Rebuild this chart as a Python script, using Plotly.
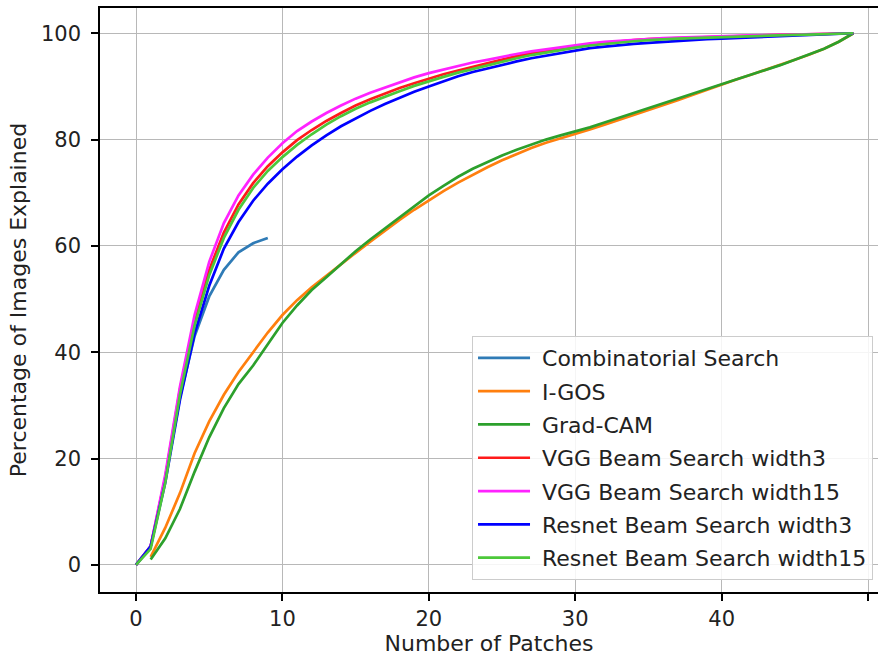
import plotly.graph_objects as go

patches = list(range(50))
patches_from1 = list(range(1, 50))
patches_comb = list(range(10))

comb = [0, 3.5, 16, 31.5, 43, 50.5, 55.5, 58.8, 60.5, 61.5]

igos = [1.5, 7, 13.5, 21, 27, 32, 36.3, 40.0, 43.7, 47.0,
        49.8, 52.2, 54.4, 56.6, 58.7, 60.8, 62.9, 64.9, 66.8, 68.6,
        70.3, 71.9, 73.4, 74.8, 76.1, 77.3, 78.4, 79.4, 80.2, 81.0,
        81.9, 82.8, 83.7, 84.6, 85.5, 86.4, 87.4, 88.4, 89.4, 90.4,
        91.3, 92.2, 93.1, 94.0, 95.0, 96.0, 97.1, 98.4, 100]

gradcam = [1.0, 5, 10.5, 17.5, 24, 29.5, 34, 37.5, 41.5, 45.5,
           48.8, 51.7, 54.1, 56.6, 59.0, 61.2, 63.3, 65.4, 67.5, 69.5,
           71.3, 73.0, 74.5, 75.8, 77.0, 78.1, 79.1, 80.0, 80.8, 81.5,
           82.3, 83.2, 84.1, 84.9, 85.8, 86.7, 87.6, 88.5, 89.4, 90.4,
           91.3, 92.2, 93.1, 94.0, 95.0, 96.0, 97.1, 98.4, 100]

vgg3 = [0, 3.5, 16.5, 33, 46, 55.5, 62.5, 67.8, 71.8, 75.0,
        77.6, 79.9, 81.8, 83.5, 85.0, 86.4, 87.6, 88.7, 89.7, 90.6,
        91.5, 92.3, 93.0, 93.7, 94.3, 95.1, 95.7, 96.2, 96.7, 97.2,
        97.6, 97.9, 98.2, 98.5, 98.7, 98.9, 99.0, 99.1, 99.2, 99.3,
        99.4, 99.5, 99.55, 99.6, 99.7, 99.75, 99.8, 99.85, 99.9, 100]

vgg15 = [0, 3.5, 17, 33.5, 47, 57, 64.3, 69.5, 73.4, 76.6,
         79.3, 81.6, 83.4, 85.0, 86.4, 87.7, 88.8, 89.8, 90.7, 91.7,
         92.5, 93.2, 93.9, 94.5, 95.0, 95.6, 96.1, 96.6, 97.0, 97.4,
         97.8, 98.1, 98.4, 98.6, 98.8, 99.0, 99.1, 99.2, 99.3, 99.4,
         99.5, 99.55, 99.6, 99.65, 99.7, 99.75, 99.8, 99.85, 99.9, 100]

resnet3 = [0, 3.5, 15.5, 31, 43.5, 52.5, 59.5, 64.5, 68.5, 71.7,
           74.4, 76.8, 78.9, 80.8, 82.5, 84.0, 85.4, 86.7, 87.9, 89.0,
           90.0, 91.0, 91.9, 92.7, 93.4, 94.1, 94.7, 95.3, 95.8, 96.3,
           96.8, 97.2, 97.5, 97.8, 98.0, 98.2, 98.4, 98.6, 98.8, 98.9,
           99.0, 99.1, 99.2, 99.3, 99.4, 99.5, 99.6, 99.7, 99.8, 100]

resnet15 = [0, 3.0, 15.5, 32, 45, 54.5, 61.5, 66.8, 70.9, 74.1,
            76.7, 79.0, 81.0, 82.8, 84.4, 85.8, 87.0, 88.1, 89.1, 90.1,
            91.0, 91.8, 92.6, 93.3, 93.9, 94.6, 95.3, 95.9, 96.4, 96.9,
            97.3, 97.7, 98.0, 98.3, 98.5, 98.7, 98.9, 99.0, 99.1, 99.2,
            99.3, 99.4, 99.5, 99.55, 99.6, 99.7, 99.75, 99.8, 99.9, 100]

x_ticks = [0, 10, 20, 30, 40, 50]
y_ticks = [0, 20, 40, 60, 80, 100]

series = [
    ("Combinatorial Search", patches_comb, comb, "#2f7bb6"),
    ("I-GOS", patches_from1, igos, "#ff7f0e"),
    ("Grad-CAM", patches_from1, gradcam, "#2ca02c"),
    ("VGG Beam Search width3", patches, vgg3, "#ff1a1a"),
    ("VGG Beam Search width15", patches, vgg15, "#ff22ff"),
    ("Resnet Beam Search width3", patches, resnet3, "#0000ff"),
    ("Resnet Beam Search width15", patches, resnet15, "#4cc83a"),
]

FONT = "DejaVu Sans"
FS_TICK = 21
FS_TEXT = 22
TXT = "#222222"

fig = go.Figure()
for i, (name, xs, ys, col) in enumerate(series):
    fig.add_trace(go.Scatter(x=xs, y=ys, mode="lines", name="\u00a0" + name,
                             legendgroup=f"g{i}",
                             line=dict(color=col, width=2.7)))

fig.update_layout(
    width=878, height=656,
    margin=dict(l=100, r=0, t=8, b=64, autoexpand=False),
    plot_bgcolor="white", paper_bgcolor="white",
    font=dict(family=FONT, size=FS_TICK, color=TXT),
    showlegend=True,
    legend=dict(x=0.9936, y=0.0205, xanchor="right", yanchor="bottom",
                bgcolor="rgba(255,255,255,0.85)", bordercolor="#cccccc",
                borderwidth=1, font=dict(family=FONT, size=FS_TEXT, color=TXT),
                tracegroupgap=1.7, itemwidth=52, traceorder="grouped"),
)
fig.update_xaxes(range=[-2.46, 50.68], tickvals=x_ticks,
                 showgrid=True, gridcolor="#b8b8b8", gridwidth=1.3,
                 showline=True, linecolor="black", linewidth=1.5, mirror=True,
                 ticks="outside", ticklen=7, tickwidth=1.5, tickcolor="black",
                 zeroline=False, automargin=False,
                 title=dict(text="Number of Patches", standoff=11,
                            font=dict(family=FONT, size=FS_TEXT, color=TXT)))
fig.update_yaxes(range=[-5.1, 104.75], tickvals=y_ticks,
                 showgrid=True, gridcolor="#b8b8b8", gridwidth=1.3,
                 showline=True, linecolor="black", linewidth=1.5, mirror=False,
                 ticks="outside", ticklen=7, tickwidth=1.5, tickcolor="black",
                 ticklabelstandoff=6,
                 zeroline=False, automargin=False,
                 title=dict(text="Percentage of Images Explained", standoff=8,
                            font=dict(family=FONT, size=FS_TEXT, color=TXT)))

fig.write_html("out.html", config={"displayModeBar": False},
               post_script="document.body.style.margin='0';")
